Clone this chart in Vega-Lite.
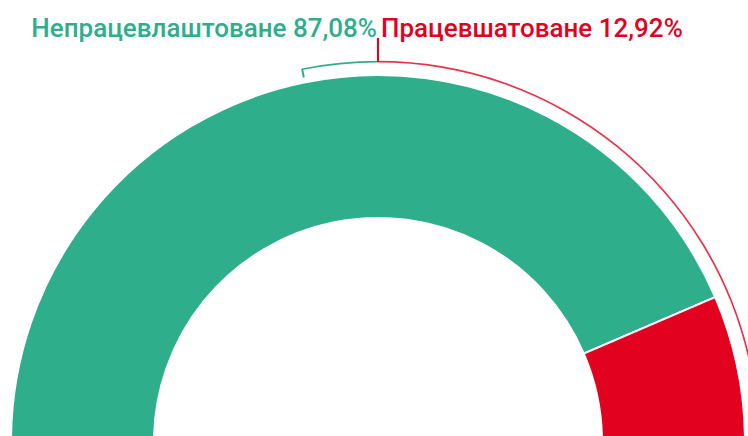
{
  "$schema": "https://vega.github.io/schema/vega-lite/v6.json",
  "width": 748,
  "height": 436,
  "padding": 0,
  "autosize": {"type": "fit", "contains": "padding"},
  "background": "white",
  "config": {"view": {"stroke": null}},
  "layer": [
    {
      "data": {"values": [
        {"label": "Непрацевлаштоване", "value": 87.08, "ord": 1},
        {"label": "Працевшатоване", "value": 12.92, "ord": 2}
      ]},
      "mark": {"type": "arc", "x": 378, "y": 442, "innerRadius": 224, "outerRadius": 367, "stroke": "white", "strokeWidth": 2},
      "encoding": {
        "theta": {"field": "value", "type": "quantitative", "stack": true, "scale": {"domain": [0, 100], "range": [-1.5708, 1.5708]}},
        "color": {"field": "label", "type": "nominal", "scale": {"domain": ["Непрацевлаштоване", "Працевшатоване"], "range": ["#2fae8c", "#e2021f"]}, "legend": null},
        "order": {"field": "ord", "type": "quantitative"}
      }
    },
    {
      "data": {"values": [
        {"name": "g", "a0": -11.5, "a1": 0},
        {"name": "r", "a0": 0, "a1": 78}
      ]},
      "mark": {"type": "arc", "x": 378, "y": 442, "innerRadius": 379.5, "outerRadius": 381.2},
      "encoding": {
        "theta": {"field": "a0", "type": "quantitative", "scale": {"domain": [-90, 90], "range": [-1.5708, 1.5708]}},
        "theta2": {"field": "a1"},
        "color": {"field": "name", "type": "nominal", "scale": {"domain": ["g", "r"], "range": ["#2fae8c", "#e8334a"]}, "legend": null}
      }
    },
    {
      "data": {"values": [
        {"name": "r", "a0": -0.15, "a1": 0.15}
      ]},
      "mark": {"type": "arc", "x": 378, "y": 442, "innerRadius": 380, "outerRadius": 404, "fill": "#e2021f"},
      "encoding": {
        "theta": {"field": "a0", "type": "quantitative", "scale": {"domain": [-90, 90], "range": [-1.5708, 1.5708]}},
        "theta2": {"field": "a1"}
      }
    },
    {
      "data": {"values": [
        {"name": "g", "a0": -11.65, "a1": -11.35}
      ]},
      "mark": {"type": "arc", "x": 378, "y": 442, "innerRadius": 372, "outerRadius": 381, "fill": "#2fae8c"},
      "encoding": {
        "theta": {"field": "a0", "type": "quantitative", "scale": {"domain": [-90, 90], "range": [-1.5708, 1.5708]}},
        "theta2": {"field": "a1"}
      }
    },
    {
      "data": {"values": [{"label": "Непрацевлаштоване 87,08%", "angle": 0}]},
      "mark": {"type": "text", "x": 378, "y": 442, "radius": 405, "align": "right", "baseline": "alphabetic", "dx": -1, "font": "Roboto", "fontSize": 26, "fontWeight": 500, "color": "#2fae8c"},
      "encoding": {
        "theta": {"field": "angle", "type": "quantitative", "scale": {"domain": [-90, 90], "range": [-1.5708, 1.5708]}},
        "text": {"field": "label"}
      }
    },
    {
      "data": {"values": [{"label": "Працевшатоване 12,92%", "angle": 0}]},
      "mark": {"type": "text", "x": 378, "y": 442, "radius": 405, "align": "left", "baseline": "alphabetic", "dx": 3, "font": "Roboto", "fontSize": 26, "fontWeight": 500, "color": "#e2021f"},
      "encoding": {
        "theta": {"field": "angle", "type": "quantitative", "scale": {"domain": [-90, 90], "range": [-1.5708, 1.5708]}},
        "text": {"field": "label"}
      }
    }
  ],
  "resolve": {"scale": {"theta": "independent", "color": "independent"}}
}
